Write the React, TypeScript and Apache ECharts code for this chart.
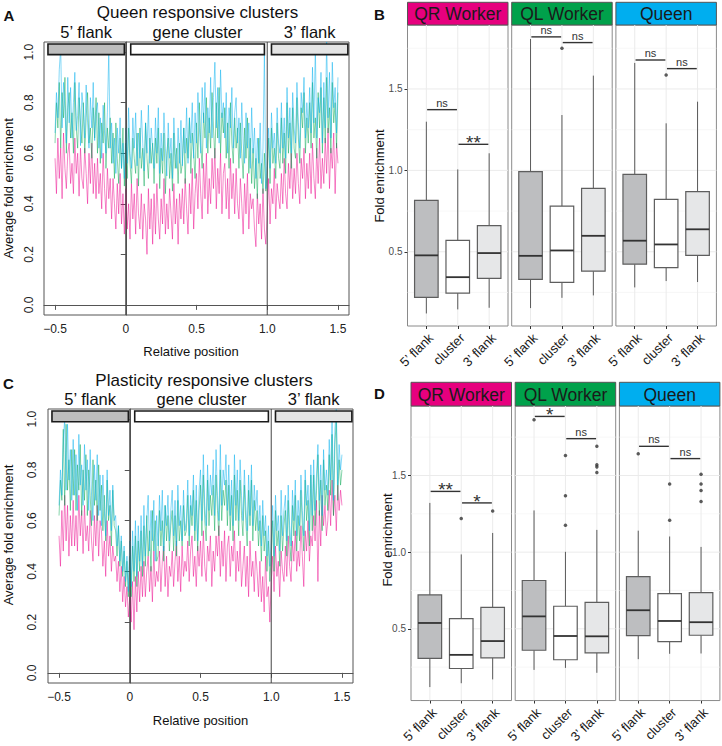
import React, { useEffect, useRef } from "react";
import * as echarts from "echarts";

const FONT = "'Liberation Sans', Arial, Helvetica, sans-serif";

// ---------------- Panels A & C: average fold enrichment along relative position ----------------
const relativePositions: number[] = Array.from({ length: 201 }, (_, i) => Math.round((-0.5 + i * 0.01) * 100) / 100);

const aQRWorker = [
  0.58, 0.44, 0.66, 0.50, 0.62, 0.42, 0.68, 0.54, 0.46, 0.60,
  0.64, 0.48, 0.56, 0.44, 0.66, 0.52, 0.60, 0.43, 0.62, 0.50,
  0.46, 0.62, 0.52, 0.40, 0.60, 0.48, 0.64, 0.44, 0.56, 0.42,
  0.58, 0.44, 0.52, 0.38, 0.60, 0.46, 0.36, 0.54, 0.42, 0.50,
  0.34, 0.50, 0.40, 0.30, 0.48, 0.36, 0.52, 0.32, 0.44, 0.28,
  0.46, 0.30, 0.40, 0.26, 0.48, 0.34, 0.44, 0.28, 0.50, 0.36,
  0.30, 0.44, 0.26, 0.40, 0.34, 0.20, 0.46, 0.30, 0.42, 0.24,
  0.44, 0.28, 0.48, 0.34, 0.26, 0.42, 0.32, 0.50, 0.28, 0.40,
  0.30, 0.46, 0.36, 0.26, 0.48, 0.32, 0.42, 0.24, 0.44, 0.34,
  0.46, 0.32, 0.50, 0.38, 0.28, 0.48, 0.36, 0.54, 0.30, 0.44,
  0.52, 0.38, 0.58, 0.44, 0.34, 0.56, 0.42, 0.60, 0.36, 0.50,
  0.40, 0.58, 0.46, 0.62, 0.38, 0.54, 0.44, 0.60, 0.36, 0.52,
  0.56, 0.38, 0.50, 0.34, 0.58, 0.42, 0.52, 0.36, 0.54, 0.40,
  0.34, 0.50, 0.40, 0.28, 0.48, 0.36, 0.52, 0.30, 0.44, 0.38,
  0.42, 0.30, 0.23, 0.44, 0.32, 0.40, 0.26, 0.46, 0.30, 0.24,
  0.36, 0.50, 0.32, 0.46, 0.40, 0.54, 0.34, 0.48, 0.42, 0.38,
  0.52, 0.40, 0.58, 0.44, 0.38, 0.56, 0.46, 0.60, 0.42, 0.54,
  0.44, 0.60, 0.48, 0.40, 0.58, 0.50, 0.62, 0.42, 0.56, 0.46,
  0.60, 0.44, 0.64, 0.50, 0.42, 0.62, 0.48, 0.66, 0.46, 0.58,
  0.48, 0.66, 0.52, 0.70, 0.46, 0.62, 0.54, 0.68, 0.44, 0.64, 0.56,
];
const aQLWorker = [
  0.64, 0.80, 0.70, 0.88, 0.62, 0.84, 0.74, 0.90, 0.60, 0.78,
  0.84, 0.66, 0.76, 0.60, 0.88, 0.70, 0.62, 0.82, 0.72, 0.64,
  0.80, 0.60, 0.74, 0.84, 0.64, 0.70, 0.58, 0.78, 0.66, 0.82,
  0.60, 0.76, 0.56, 0.72, 0.64, 0.80, 0.54, 0.70, 0.62, 0.74,
  0.56, 0.68, 0.50, 0.72, 0.58, 0.48, 0.66, 0.54, 0.70, 0.47,
  0.64, 0.50, 0.70, 0.56, 0.48, 0.66, 0.58, 0.52, 0.68, 0.47,
  0.70, 0.54, 0.62, 0.47, 0.72, 0.58, 0.50, 0.66, 0.56, 0.64,
  0.48, 0.66, 0.56, 0.70, 0.46, 0.62, 0.52, 0.68, 0.44, 0.60,
  0.66, 0.50, 0.60, 0.45, 0.68, 0.54, 0.62, 0.48, 0.64, 0.52,
  0.56, 0.70, 0.48, 0.66, 0.58, 0.74, 0.52, 0.68, 0.60, 0.50,
  0.72, 0.58, 0.80, 0.64, 0.54, 0.76, 0.66, 0.82, 0.60, 0.74,
  0.62, 0.84, 0.70, 0.58, 0.80, 0.66, 0.86, 0.60, 0.76, 0.68,
  0.78, 0.58, 0.72, 0.54, 0.80, 0.64, 0.56, 0.74, 0.62, 0.70,
  0.54, 0.72, 0.60, 0.50, 0.70, 0.58, 0.74, 0.52, 0.66, 0.48,
  0.62, 0.46, 0.58, 0.42, 0.66, 0.50, 0.56, 0.44, 0.60, 0.45,
  0.52, 0.66, 0.48, 0.70, 0.56, 0.62, 0.50, 0.72, 0.58, 0.54,
  0.74, 0.56, 0.68, 0.52, 0.80, 0.60, 0.72, 0.54, 0.78, 0.62,
  0.58, 0.82, 0.66, 0.56, 0.78, 0.70, 0.84, 0.60, 0.74, 0.64,
  0.80, 0.62, 0.88, 0.66, 0.74, 0.58, 0.84, 0.70, 0.86, 0.60,
  0.82, 0.64, 0.90, 0.68, 0.78, 0.60, 0.88, 0.72, 0.80, 0.62, 0.84,
];
const aQueen = [
  0.68, 0.84, 0.74, 0.93, 1.02, 0.70, 0.88, 0.77, 0.64, 0.90,
  0.72, 0.86, 0.66, 0.80, 0.92, 0.69, 0.75, 0.88, 0.63, 0.84,
  0.78, 0.66, 0.87, 0.72, 0.62, 0.82, 0.70, 0.88, 0.65, 0.76,
  0.80, 0.62, 0.74, 0.58, 0.79, 0.68, 0.60, 0.76, 1.00, 0.62,
  0.72, 0.56, 0.66, 0.52, 0.70, 0.60, 0.74, 0.54, 0.64, 0.50,
  0.70, 0.56, 0.78, 0.60, 0.54, 0.74, 0.62, 0.76, 0.55, 0.68,
  0.58, 0.77, 0.64, 0.53, 0.72, 0.60, 0.79, 0.56, 0.70, 0.62,
  0.54, 0.74, 0.60, 0.78, 0.52, 0.68, 0.57, 0.76, 0.62, 0.51,
  0.72, 0.58, 0.66, 0.50, 0.74, 0.60, 0.54, 0.70, 0.56, 0.73,
  0.55, 0.70, 0.60, 0.78, 0.56, 0.74, 0.64, 0.80, 0.58, 0.76,
  0.64, 0.84, 0.70, 0.60, 0.86, 0.72, 0.88, 0.62, 0.78, 0.68,
  0.90, 0.66, 0.82, 0.96, 0.70, 0.86, 0.64, 0.93, 0.74, 0.80,
  0.66, 0.84, 0.60, 0.78, 0.70, 0.86, 0.62, 0.76, 0.82, 0.64,
  0.74, 0.58, 0.80, 0.64, 0.56, 0.76, 0.62, 0.72, 0.54, 0.78,
  0.60, 0.70, 0.50, 0.66, 0.56, 0.72, 0.48, 0.62, 1.00, 0.46,
  0.58, 0.70, 0.54, 0.76, 0.62, 0.68, 0.56, 0.78, 0.64, 0.60,
  0.80, 0.62, 0.74, 0.58, 0.86, 0.66, 0.78, 0.60, 0.84, 0.70,
  0.64, 0.88, 0.72, 0.62, 0.84, 0.76, 0.90, 0.66, 0.80, 0.70,
  0.86, 0.68, 0.94, 0.72, 1.02, 0.66, 0.82, 0.76, 0.92, 0.64,
  0.88, 0.70, 1.04, 0.74, 0.92, 0.66, 0.96, 0.78, 0.86, 0.68, 0.90,
];

const cQRWorker = [
  0.54, 0.42, 0.64, 0.48, 0.70, 0.52, 0.66, 0.46, 0.62, 0.50,
  0.68, 0.50, 0.62, 0.48, 0.70, 0.54, 0.64, 0.47, 0.66, 0.52,
  0.58, 0.48, 0.64, 0.52, 0.44, 0.62, 0.50, 0.66, 0.46, 0.60,
  0.56, 0.42, 0.52, 0.38, 0.60, 0.46, 0.54, 0.40, 0.50, 0.44,
  0.46, 0.36, 0.44, 0.32, 0.42, 0.28, 0.38, 0.26, 0.34, 0.22,
  0.30, 0.20, 0.36, 0.17, 0.38, 0.24, 0.40, 0.28, 0.42, 0.30,
  0.44, 0.30, 0.40, 0.46, 0.32, 0.42, 0.28, 0.48, 0.34, 0.40,
  0.36, 0.48, 0.32, 0.44, 0.50, 0.34, 0.46, 0.30, 0.42, 0.38,
  0.48, 0.34, 0.44, 0.52, 0.36, 0.46, 0.32, 0.50, 0.38, 0.44,
  0.40, 0.52, 0.36, 0.48, 0.54, 0.38, 0.46, 0.34, 0.50, 0.42,
  0.52, 0.38, 0.56, 0.42, 0.36, 0.50, 0.44, 0.54, 0.34, 0.48,
  0.40, 0.54, 0.46, 0.58, 0.38, 0.52, 0.42, 0.56, 0.36, 0.50,
  0.54, 0.38, 0.50, 0.44, 0.56, 0.36, 0.48, 0.40, 0.52, 0.34,
  0.42, 0.50, 0.34, 0.46, 0.30, 0.52, 0.38, 0.44, 0.32, 0.48,
  0.40, 0.30, 0.44, 0.28, 0.38, 0.24, 0.46, 0.30, 0.34, 0.20,
  0.36, 0.46, 0.32, 0.50, 0.38, 0.44, 0.30, 0.48, 0.40, 0.36,
  0.50, 0.38, 0.54, 0.42, 0.36, 0.52, 0.44, 0.56, 0.40, 0.48,
  0.42, 0.58, 0.46, 0.34, 0.56, 0.48, 0.60, 0.44, 0.54, 0.50,
  0.62, 0.52, 0.68, 0.36, 0.64, 0.50, 0.70, 0.58, 0.66, 0.54,
  0.60, 0.72, 0.58, 0.76, 0.62, 0.70, 0.56, 0.74, 0.64, 0.72, 0.66,
];
const cQLWorker = [
  0.62, 0.76, 0.68, 0.96, 0.66, 0.98, 0.72, 0.84, 0.64, 0.88,
  0.70, 0.88, 0.64, 0.82, 0.72, 0.90, 0.62, 0.80, 0.68, 0.86,
  0.62, 0.80, 0.70, 0.58, 0.84, 0.66, 0.76, 0.60, 0.82, 0.64,
  0.74, 0.56, 0.70, 0.52, 0.76, 0.60, 0.66, 0.50, 0.72, 0.58,
  0.56, 0.46, 0.58, 0.42, 0.52, 0.38, 0.48, 0.34, 0.44, 0.30,
  0.46, 0.30, 0.50, 0.36, 0.54, 0.34, 0.52, 0.40, 0.56, 0.38,
  0.58, 0.42, 0.62, 0.46, 0.56, 0.40, 0.64, 0.48, 0.60, 0.44,
  0.46, 0.64, 0.50, 0.60, 0.44, 0.66, 0.52, 0.62, 0.48, 0.58,
  0.64, 0.48, 0.62, 0.46, 0.68, 0.52, 0.60, 0.50, 0.66, 0.54,
  0.56, 0.70, 0.50, 0.66, 0.58, 0.72, 0.52, 0.68, 0.48, 0.64,
  0.74, 0.54, 0.78, 0.60, 0.52, 0.76, 0.58, 0.70, 0.62, 0.74,
  0.56, 0.78, 0.64, 0.54, 0.80, 0.60, 0.72, 0.66, 0.76, 0.58,
  0.74, 0.56, 0.70, 0.52, 0.78, 0.60, 0.72, 0.54, 0.76, 0.62,
  0.54, 0.74, 0.60, 0.50, 0.72, 0.58, 0.76, 0.52, 0.68, 0.56,
  0.64, 0.50, 0.60, 0.44, 0.62, 0.48, 0.56, 0.40, 0.52, 0.36,
  0.46, 0.60, 0.40, 0.64, 0.50, 0.56, 0.42, 0.62, 0.48, 0.58,
  0.64, 0.46, 0.68, 0.52, 0.44, 0.66, 0.54, 0.70, 0.48, 0.62,
  0.52, 0.72, 0.58, 0.48, 0.76, 0.60, 0.68, 0.50, 0.78, 0.56,
  0.78, 0.58, 0.72, 0.86, 0.62, 0.76, 0.56, 0.84, 0.66, 0.74,
  0.64, 0.86, 0.70, 0.94, 0.62, 0.90, 1.00, 0.68, 0.84, 0.74, 0.80,
];
const cQueen = [
  0.66, 0.80, 0.70, 0.92, 1.00, 0.72, 0.98, 0.76, 0.88, 0.68,
  0.92, 0.70, 0.86, 0.64, 0.94, 0.74, 0.82, 0.66, 0.90, 0.72,
  0.84, 0.64, 0.88, 0.70, 0.60, 0.82, 0.68, 0.86, 0.62, 0.78,
  0.58, 0.78, 0.64, 0.54, 0.80, 0.62, 0.72, 0.56, 0.74, 0.60,
  0.62, 0.50, 0.58, 0.44, 0.54, 0.40, 0.50, 0.36, 0.46, 0.32,
  0.52, 0.34, 0.56, 0.40, 0.60, 0.38, 0.58, 0.44, 0.62, 0.42,
  0.66, 0.46, 0.60, 0.70, 0.48, 0.64, 0.52, 0.68, 0.44, 0.62,
  0.50, 0.70, 0.56, 0.72, 0.48, 0.66, 0.58, 0.70, 0.52, 0.64,
  0.72, 0.54, 0.68, 0.50, 0.74, 0.58, 0.66, 0.52, 0.72, 0.56,
  0.60, 0.76, 0.54, 0.70, 0.62, 0.78, 0.56, 0.74, 0.52, 0.72,
  0.80, 0.60, 0.86, 0.66, 0.58, 0.82, 0.64, 0.78, 0.70, 0.84,
  0.62, 0.88, 0.70, 0.60, 0.90, 0.66, 0.80, 0.74, 0.86, 0.64,
  0.82, 0.62, 0.76, 0.58, 0.86, 0.66, 0.80, 0.60, 0.84, 0.70,
  0.60, 0.80, 0.66, 0.56, 0.78, 0.62, 0.82, 0.58, 0.74, 0.64,
  0.72, 0.56, 0.66, 0.50, 0.68, 0.54, 0.62, 0.46, 0.58, 0.42,
  0.52, 0.66, 0.46, 0.70, 0.56, 0.62, 0.48, 0.72, 0.54, 0.64,
  0.70, 0.52, 0.74, 0.58, 0.50, 0.72, 0.60, 0.76, 0.54, 0.68,
  0.58, 0.78, 0.64, 0.54, 0.80, 0.66, 0.74, 0.56, 0.82, 0.62,
  0.84, 0.64, 0.78, 0.90, 0.68, 0.82, 0.62, 0.88, 0.72, 0.80,
  0.70, 0.92, 0.76, 1.02, 0.68, 0.96, 1.04, 0.74, 0.90, 0.80, 0.86,
];

const lineXTicks = [-0.5, 0, 0.5, 1, 1.5];
const lineXTickLabels = ["\u22120.5", "0", "0.5", "1.0", "1.5"];
const lineYTicks = [0, 0.2, 0.4, 0.6, 0.8, 1.0];
const boundaryPositions = [0, 1];

const regionLabels = ["5\u2019 flank", "gene cluster", "3\u2019 flank"];
const regionStarts = [-0.55, 0.035, 1.03];
const regionEnds = [-0.01, 0.98, 1.57];
const regionFills = ["#BDBDBD", "#FFFFFF", "#E4E4E4"];
const regionTop = 1.032;
const regionBottom = 0.99;

const seriesColors = ["#EC008C", "#00A651", "#00AEEF"];

// ---------------- Panels B & D: fold enrichment box plots ----------------
const facetNames = ["QR Worker", "QL Worker", "Queen"];
const facetColors = ["#E6007E", "#00A14B", "#00AEEF"];
const boxCategories = ["5\u2019 flank", "cluster", "3\u2019 flank"];
const boxPositions = [1, 2, 3];
const boxFills = ["#BDBEC0", "#FFFFFF", "#E6E7E8"];
const boxYTicks = [0.5, 1.0, 1.5];
const gridMajor = [0.5, 1.0, 1.5];
const gridMinor = [0.25, 0.75, 1.25, 1.75];

// [min, Q1, median, Q3, max]
const bQRWorker = [[0.121, 0.22, 0.478, 0.816, 1.299], [0.146, 0.246, 0.344, 0.57, 1.006], [0.156, 0.336, 0.492, 0.66, 1.105]];
const bQLWorker = [[0.154, 0.33, 0.475, 0.992, 1.807], [0.217, 0.312, 0.508, 0.78, 1.34], [0.232, 0.381, 0.598, 0.89, 1.582]];
const bQueen = [[0.281, 0.424, 0.568, 0.976, 1.66], [0.32, 0.402, 0.545, 0.822, 1.289], [0.314, 0.478, 0.638, 0.869, 1.422]];
const bOutQRWorker = [[], [], []];
const bOutQLWorker = [[], [1.75], []];
const bOutQueen = [[], [1.586], []];
const bBracketHeights = [[1.373, 1.16], [1.82, 1.785], [1.678, 1.625]];
const bBracketLabels = [["ns", "**"], ["ns", "ns"], ["ns", "ns"]];

const dQRWorker = [[0.12, 0.307, 0.538, 0.721, 1.321], [0.145, 0.241, 0.33, 0.566, 0.985], [0.17, 0.311, 0.42, 0.64, 1.125]];
const dQLWorker = [[0.232, 0.36, 0.581, 0.815, 1.272], [0.245, 0.298, 0.453, 0.647, 1.002], [0.213, 0.343, 0.451, 0.672, 1.145]];
const dQueen = [[0.302, 0.455, 0.621, 0.84, 1.14], [0.337, 0.417, 0.551, 0.73, 1.102], [0.339, 0.458, 0.543, 0.736, 1.034]];
const dOutQRWorker = [[], [1.219], [1.268]];
const dOutQLWorker = [[1.864], [1.63, 1.368, 1.175], [1.69, 1.57, 1.556, 1.52]];
const dOutQueen = [[1.642], [1.444, 1.208], [1.508, 1.444, 1.402, 1.33]];
const dBracketHeights = [[1.396, 1.321], [1.885, 1.74], [1.69, 1.61]];
const dBracketLabels = [["**", "*"], ["*", "ns"], ["ns", "ns"]];

// ---------------- layout ----------------
const facetStep = 104.2;
const facetWidth = 100.5;
const bLayout = { left: 407.5, top: 25, height: 301, stripTop: 2.3, min: 0.044, max: 1.893 };
const dLayout = { left: 411, top: 406, height: 300.7, stripTop: 382.3, min: 0.032, max: 1.953 };

function lineAxes(gi: number, yMargin: number) {
  const x = {
    type: "value", gridIndex: gi, min: -0.578, max: 1.578,
    axisLine: { show: true, lineStyle: { color: "#555", width: 1 } },
    splitLine: { show: false },
    axisTick: { show: true, customValues: lineXTicks, length: 5, lineStyle: { color: "#555" } },
    axisLabel: {
      show: true, customValues: lineXTicks, margin: 8, fontSize: 12, color: "#222", fontFamily: FONT,
      formatter: (v: number) => {
        const k = lineXTicks.findIndex((t) => Math.abs(t - v) < 1e-6);
        return k >= 0 ? lineXTickLabels[k] : "";
      },
    },
  };
  const y = {
    type: "value", gridIndex: gi, min: -0.04, max: 1.04,
    axisLine: { show: true, lineStyle: { color: "#555", width: 1 } },
    splitLine: { show: false },
    axisTick: { show: true, customValues: lineYTicks, length: 5, lineStyle: { color: "#555" } },
    axisLabel: {
      show: true, customValues: lineYTicks, margin: yMargin, fontSize: 12, color: "#222", fontFamily: FONT, rotate: 90,
      formatter: (v: number) => v.toFixed(1),
    },
  };
  return { x, y };
}

function lineSeries(gi: number, values: number[], color: string) {
  return {
    type: "line", xAxisIndex: gi, yAxisIndex: gi, silent: true, z: 2,
    data: relativePositions.map((x, i) => [x, values[i]]),
    symbol: "none", showSymbol: false,
    lineStyle: { color, width: 0.8, opacity: 0.6 },
  };
}

function boundarySeries(gi: number) {
  return {
    type: "custom", xAxisIndex: gi, yAxisIndex: gi, silent: true, z: 4,
    data: boundaryPositions.map((v) => [v, 0.5]),
    renderItem: (params: any, api: any) => {
      const cs = params.coordSys;
      const x = api.coord([api.value(0), 0.5])[0];
      return { type: "line", shape: { x1: x, y1: cs.y, x2: x, y2: cs.y + cs.height }, style: { stroke: "#444", lineWidth: 1 } };
    },
  };
}

function regionSeries(gi: number) {
  return {
    type: "custom", xAxisIndex: gi, yAxisIndex: gi, silent: true, z: 5, clip: false,
    data: regionStarts.map((s, i) => [s, regionEnds[i]]),
    renderItem: (params: any, api: any) => {
      const i = params.dataIndex;
      const p0 = api.coord([api.value(0), regionTop]);
      const p1 = api.coord([api.value(1), regionBottom]);
      return {
        type: "group",
        children: [
          { type: "rect", shape: { x: p0[0], y: p0[1], width: p1[0] - p0[0], height: p1[1] - p0[1] }, style: { fill: regionFills[i], stroke: "#1a1a1a", lineWidth: 1.6 } },
          { type: "text", x: (p0[0] + p1[0]) / 2, y: p0[1] - 11.8, style: { text: regionLabels[i], align: "center", verticalAlign: "middle", fontSize: 16.5, fontFamily: FONT, fill: "#111" } },
        ],
      };
    },
  };
}

function facetAxes(gi: number, first: boolean, lay: any) {
  const x = {
    type: "value", gridIndex: gi, min: 0.4, max: 3.6,
    axisLine: { show: false }, splitLine: { show: false },
    axisTick: { show: true, customValues: boxPositions, length: 3, lineStyle: { color: "#333" } },
    axisLabel: {
      show: true, customValues: boxPositions, rotate: 45, align: "right", verticalAlign: "top", margin: 5,
      fontSize: 13, color: "#1a1a1a", fontFamily: FONT,
      formatter: (v: number) => boxCategories[Math.round(v) - 1] || "",
    },
  };
  const y = {
    type: "value", gridIndex: gi, min: lay.min, max: lay.max,
    axisLine: { show: false }, splitLine: { show: false },
    axisTick: { show: first, customValues: boxYTicks, length: 3, lineStyle: { color: "#333" } },
    axisLabel: {
      show: first, customValues: boxYTicks, margin: 5, fontSize: 10, color: "#4D4D4D", fontFamily: FONT,
      formatter: (v: number) => v.toFixed(1),
    },
  };
  return { x, y };
}

function facetSeries(gi: number, boxes: number[][], outliers: number[][], heights: number[], labels: string[]) {
  const gridData = [
    ...gridMinor.map((v) => [2, v, 0]),
    ...gridMajor.map((v) => [2, v, 1]),
    ...boxPositions.map((c) => [c, 1, 2]),
  ];
  return [
    {
      type: "custom", xAxisIndex: gi, yAxisIndex: gi, silent: true, z: 1, data: gridData,
      renderItem: (params: any, api: any) => {
        const cs = params.coordSys;
        const kind = api.value(2);
        if (kind === 2) {
          const x = api.coord([api.value(0), 1])[0];
          return { type: "line", shape: { x1: x, y1: cs.y, x2: x, y2: cs.y + cs.height }, style: { stroke: "#EBEBEB", lineWidth: 1 } };
        }
        const y = api.coord([2, api.value(1)])[1];
        return {
          type: "line", shape: { x1: cs.x, y1: y, x2: cs.x + cs.width, y2: y },
          style: { stroke: kind === 1 ? "#EBEBEB" : "#F4F4F4", lineWidth: kind === 1 ? 1 : 0.7 },
        };
      },
    },
    {
      type: "custom", xAxisIndex: gi, yAxisIndex: gi, silent: true, z: 3,
      data: boxes.map((b, i) => [boxPositions[i], ...b]),
      encode: { x: 0, y: [1, 2, 3, 4, 5] },
      renderItem: (params: any, api: any) => {
        const c = api.value(0);
        const pMin = api.coord([c, api.value(1)]);
        const pQ1 = api.coord([c, api.value(2)]);
        const pMd = api.coord([c, api.value(3)]);
        const pQ3 = api.coord([c, api.value(4)]);
        const pMax = api.coord([c, api.value(5)]);
        const half = api.size([0.75, 0])[0] / 2;
        const x = pMd[0];
        const ws = { stroke: "#5A5A5A", lineWidth: 1 };
        return {
          type: "group",
          children: [
            { type: "line", shape: { x1: x, y1: pMax[1], x2: x, y2: pQ3[1] }, style: ws },
            { type: "line", shape: { x1: x, y1: pQ1[1], x2: x, y2: pMin[1] }, style: ws },
            { type: "rect", shape: { x: x - half, y: pQ3[1], width: half * 2, height: pQ1[1] - pQ3[1] }, style: { fill: boxFills[params.dataIndex], stroke: "#5E5E5E", lineWidth: 1.2 } },
            { type: "line", shape: { x1: x - half, y1: pMd[1], x2: x + half, y2: pMd[1] }, style: { stroke: "#333", lineWidth: 1.8 } },
          ],
        };
      },
    },
    {
      type: "scatter", xAxisIndex: gi, yAxisIndex: gi, silent: true, z: 4,
      symbol: "circle", symbolSize: 3.5, itemStyle: { color: "#333" },
      data: outliers.flatMap((vals, i) => vals.map((v) => [boxPositions[i], v])),
    },
    {
      type: "custom", xAxisIndex: gi, yAxisIndex: gi, silent: true, z: 5, clip: false,
      data: heights.map((h, i) => [boxPositions[i], boxPositions[i + 1], h]),
      renderItem: (params: any, api: any) => {
        const h = api.value(2);
        const p0 = api.coord([api.value(0), h]);
        const p1 = api.coord([api.value(1), h]);
        const lab = labels[params.dataIndex];
        const star = lab.indexOf("*") >= 0;
        return {
          type: "group",
          children: [
            { type: "line", shape: { x1: p0[0] + 0.8, y1: p0[1], x2: p1[0] - 0.8, y2: p1[1] }, style: { stroke: "#333", lineWidth: 1.4 } },
            {
              type: "text", x: (p0[0] + p1[0]) / 2, y: p0[1] - (star ? 1.5 : 7),
              style: { text: lab, align: "center", verticalAlign: "middle", fontSize: star ? 19 : 11, fontFamily: FONT, fill: "#333" },
            },
          ],
        };
      },
    },
  ];
}

function txt(text: string, x: number, y: number, fontSize: number, extra: any = {}) {
  return {
    type: "text", x, y, rotation: extra.rotation || 0, silent: true,
    style: { text, fontSize, fontFamily: FONT, fontWeight: extra.bold ? "bold" : "normal", fill: extra.fill || "#111", align: "center", verticalAlign: "middle" },
  };
}

export default function App() {
  const ref = useRef<HTMLDivElement>(null);

  useEffect(() => {
    document.body.style.margin = "0";
    if (!ref.current) return;
    const chart = echarts.init(ref.current, null, { renderer: "svg" });

    const grids: any[] = [];
    const xAxes: any[] = [];
    const yAxes: any[] = [];
    const series: any[] = [];
    const graphics: any[] = [];

    // Panel A (grid 0)
    grids.push({ left: 44, top: 42, width: 305, height: 273, show: true, borderColor: "#555", borderWidth: 1, backgroundColor: "#fff" });
    let ax = lineAxes(0, 9);
    xAxes.push(ax.x); yAxes.push(ax.y);
    series.push(lineSeries(0, aQRWorker, seriesColors[0]), lineSeries(0, aQLWorker, seriesColors[1]), lineSeries(0, aQueen, seriesColors[2]), boundarySeries(0), regionSeries(0));

    // Panel B (grids 1-3)
    const bBoxes = [bQRWorker, bQLWorker, bQueen];
    const bOut = [bOutQRWorker, bOutQLWorker, bOutQueen];
    for (let k = 0; k < 3; k++) {
      const gi = 1 + k;
      const left = bLayout.left + facetStep * k;
      grids.push({ left, top: bLayout.top, width: facetWidth, height: bLayout.height, show: true, borderColor: "#8A8A8A", borderWidth: 1, backgroundColor: "#fff" });
      const fa = facetAxes(gi, k === 0, bLayout);
      xAxes.push(fa.x); yAxes.push(fa.y);
      series.push(...facetSeries(gi, bBoxes[k], bOut[k], bBracketHeights[k], bBracketLabels[k]));
      graphics.push({ type: "rect", silent: true, shape: { x: left, y: bLayout.stripTop, width: facetWidth, height: bLayout.top - bLayout.stripTop }, style: { fill: facetColors[k], stroke: "#555", lineWidth: 1 } });
      graphics.push(txt(facetNames[k], left + facetWidth / 2, (bLayout.stripTop + bLayout.top) / 2 + 0.5, 17.5, { fill: "#1a1a1a" }));
    }

    // Panel C (grid 4)
    grids.push({ left: 48, top: 409, width: 305, height: 274, show: true, borderColor: "#555", borderWidth: 1, backgroundColor: "#fff" });
    ax = lineAxes(4, 10);
    xAxes.push(ax.x); yAxes.push(ax.y);
    series.push(lineSeries(4, cQRWorker, seriesColors[0]), lineSeries(4, cQLWorker, seriesColors[1]), lineSeries(4, cQueen, seriesColors[2]), boundarySeries(4), regionSeries(4));

    // Panel D (grids 5-7)
    const dBoxes = [dQRWorker, dQLWorker, dQueen];
    const dOut = [dOutQRWorker, dOutQLWorker, dOutQueen];
    for (let k = 0; k < 3; k++) {
      const gi = 5 + k;
      const left = dLayout.left + facetStep * k;
      grids.push({ left, top: dLayout.top, width: facetWidth, height: dLayout.height, show: true, borderColor: "#8A8A8A", borderWidth: 1, backgroundColor: "#fff" });
      const fa = facetAxes(gi, k === 0, dLayout);
      xAxes.push(fa.x); yAxes.push(fa.y);
      series.push(...facetSeries(gi, dBoxes[k], dOut[k], dBracketHeights[k], dBracketLabels[k]));
      graphics.push({ type: "rect", silent: true, shape: { x: left, y: dLayout.stripTop, width: facetWidth, height: dLayout.top - dLayout.stripTop }, style: { fill: facetColors[k], stroke: "#555", lineWidth: 1 } });
      graphics.push(txt(facetNames[k], left + facetWidth / 2, (dLayout.stripTop + dLayout.top) / 2 + 0.5, 17.5, { fill: "#1a1a1a" }));
    }

    // Titles, panel letters and axis titles
    graphics.push(txt("A", 9, 15, 15, { bold: true }));
    graphics.push(txt("B", 379.5, 14.3, 15, { bold: true }));
    graphics.push(txt("C", 8.5, 383.3, 15, { bold: true }));
    graphics.push(txt("D", 379.5, 393.7, 15, { bold: true }));
    graphics.push(txt("Queen responsive clusters", 197.5, 12.5, 17));
    graphics.push(txt("Plasticity responsive clusters", 204, 380.5, 17));
    graphics.push(txt("Relative position", 191, 351.5, 13));
    graphics.push(txt("Relative position", 200.5, 720, 13));
    graphics.push(txt("Average fold enrichment", 8, 188.5, 13, { rotation: Math.PI / 2 }));
    graphics.push(txt("Average fold enrichment", 8, 535, 13, { rotation: Math.PI / 2 }));
    graphics.push(txt("Fold enrichment", 379, 176, 13, { rotation: Math.PI / 2 }));
    graphics.push(txt("Fold enrichment", 387, 540, 13, { rotation: Math.PI / 2 }));

    chart.setOption({
      animation: false,
      backgroundColor: "#ffffff",
      textStyle: { fontFamily: FONT },
      grid: grids,
      xAxis: xAxes,
      yAxis: yAxes,
      series,
      graphic: graphics,
    });

    return () => {
      chart.dispose();
    };
  }, []);

  return <div ref={ref} style={{ width: 722, height: 746 }} />;
}
